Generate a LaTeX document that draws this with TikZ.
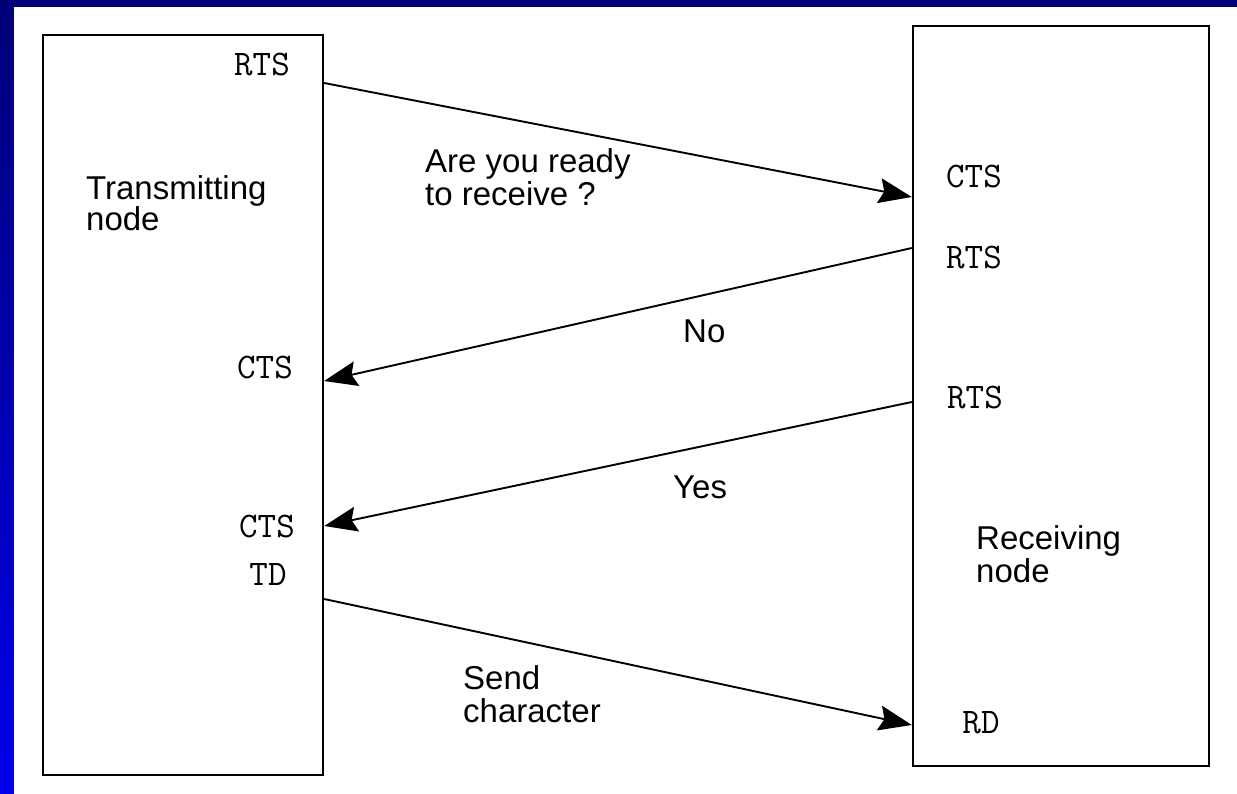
\documentclass[tikz,border=0pt]{standalone}
\usepackage{fontspec}
\setmainfont{Liberation Sans}
\usepackage{tikz}
\usetikzlibrary{arrows.meta,positioning}
\definecolor{framenavy}{RGB}{0,0,120}
\definecolor{frameblue}{RGB}{0,0,235}

\begin{document}
\begin{tikzpicture}[x=1pt,y=-1pt,
  station/.style={draw,line width=2.4pt,inner sep=0pt},
  sig/.style={font=\fontsize{36}{36}\ttfamily,anchor=base,inner sep=0pt},
  lbl/.style={font=\fontsize{33}{33}\selectfont,align=left,anchor=north west,inner sep=0pt},
  msg/.style={line width=1.9pt,-{Stealth[length=33pt,width=25pt,inset=5pt]}}]

\useasboundingbox (0,0) rectangle (1237,793);
\shade[top color=framenavy,bottom color=frameblue] (0,0) rectangle (1237,793);
\fill[white] (14,7) rectangle (1245,800);

% the two stations
\node[station,minimum width=280,minimum height=740] (tx) at (183,405) {};
\node[station,minimum width=296,minimum height=740] (rx) at (1061,396) {};

\node[lbl,font=\fontsize{33}{30}\selectfont] (txname) at (86,175) {Transmitting\\node};
\node[lbl] (rxname) at (976,525) {Receiving\\node};

\node[sig] (txRTSl) at (262,75) {RTS};
\node[sig] (txCTSa) at (265,378) {CTS};
\node[sig] (txCTSb) at (267,537) {CTS};
\node[sig] (txTDl) at (268,585) {TD};

\node[sig] (rxCTSl) at (974,187) {CTS};
\node[sig] (rxRTSa) at (974,268) {RTS};
\node[sig] (rxRTSb) at (975,408) {RTS};
\node[sig] (rxRDl) at (981,733) {RD};

% line ends on the box edges
\coordinate (txRTS) at (tx.east |- 0,83);
\coordinate (txCTS1) at (tx.east |- 0,381);
\coordinate (txCTS2) at (tx.east |- 0,526);
\coordinate (txTD) at (tx.east |- 0,599);
\coordinate (rxCTS) at (rx.west |- 0,197);
\coordinate (rxRTS1) at (rx.west |- 0,248);
\coordinate (rxRTS2) at (rx.west |- 0,402);
\coordinate (rxRD) at (rx.west |- 0,725);

\draw[msg] (txRTS) -- (rxCTS);
\draw[msg] (rxRTS1) -- (txCTS1);
\draw[msg] (rxRTS2) -- (txCTS2);
\draw[msg] (txTD) -- (rxRD);

\node[lbl] (ask) at (425,148) {Are you ready\\to receive ?};
\node[lbl,anchor=base west] (no) at (683,342) {No};
\node[lbl,anchor=base west] (yes) at (673,498) {Yes};
\node[lbl] (send) at (463,665) {Send\\character};

\end{tikzpicture}
\end{document}
